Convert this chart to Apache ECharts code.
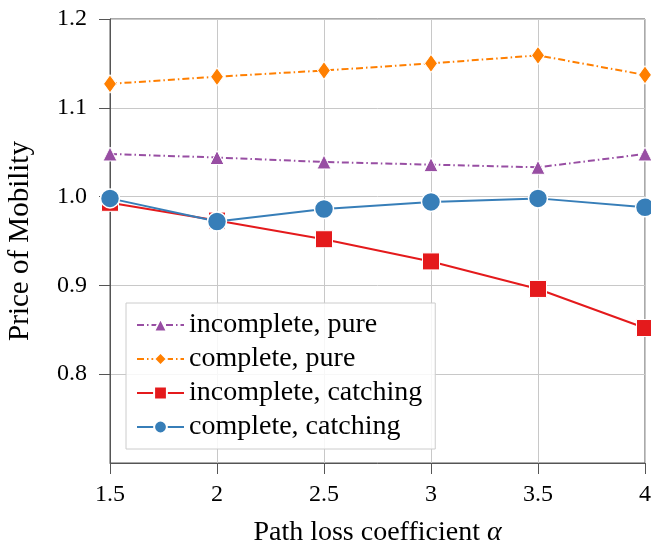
<!DOCTYPE html>
<html><head><meta charset="utf-8">
<script src="https://cdn.jsdelivr.net/npm/echarts@6/dist/echarts.min.js"></script>
<style>html,body{margin:0;padding:0;background:#fff}#c{width:651px;height:543px}</style>
</head><body><div id="c"></div>
<script>
const xValues = [1.5, 2, 2.5, 3, 3.5, 4];
const incompletePure = [1.048, 1.044, 1.039, 1.036, 1.033, 1.048];
const completePure = [1.127, 1.135, 1.142, 1.150, 1.159, 1.137];
const incompleteCatching = [0.993, 0.973, 0.952, 0.927, 0.896, 0.852];
const completeCatching = [0.998, 0.972, 0.986, 0.994, 0.998, 0.988];
const seriesNames = ['incomplete, pure', 'complete, pure', 'incomplete, catching', 'complete, catching'];

const font = 'Liberation Serif, Times New Roman, serif';
const pair = arr => xValues.map((x, i) => [x, arr[i]]);
const dashDot = [7, 3, 1.5, 3];

const chart = echarts.init(document.getElementById('c'), null, {renderer: 'canvas'});
chart.setOption({
  animation: false,
  backgroundColor: '#fff',
  grid: {left: 110, right: 6, top: 19, bottom: 80, show: true, borderColor: '#555', borderWidth: 1,
    containLabel: false, outerBoundsMode: 'none'},
  xAxis: {
    type: 'value', min: 1.5, max: 4, interval: 0.5,
    name: '{n|Path loss coefficient }{a|α}', nameLocation: 'middle', nameGap: 56,
    nameTextStyle: {rich: {n: {fontFamily: font, fontSize: 28, color: '#000'}, a: {fontFamily: font, fontSize: 28, fontStyle: 'italic', color: '#000'}}},
    axisLine: {lineStyle: {color: '#555'}},
    axisTick: {show: true, inside: false, length: 11, lineStyle: {color: '#555'}},
    axisLabel: {fontFamily: font, fontSize: 24, color: '#000', margin: 20},
    splitLine: {show: true, lineStyle: {color: '#c8c8c8', width: 1}}
  },
  yAxis: {
    type: 'value', min: 0.7, max: 1.2, interval: 0.1,
    name: 'Price of Mobility', nameLocation: 'middle', nameGap: 75,
    nameTextStyle: {fontFamily: font, fontSize: 29, color: '#000'},
    axisLine: {show: true, lineStyle: {color: '#555'}},
    axisTick: {show: true, inside: false, length: 11, lineStyle: {color: '#555'},
      customValues: [0.8, 0.9, 1.0, 1.1, 1.2]},
    axisLabel: {fontFamily: font, fontSize: 24, color: '#000', margin: 23, showMinLabel: false,
      formatter: v => v.toFixed(1)},
    splitLine: {show: true, lineStyle: {color: '#c8c8c8', width: 1}}
  },
  legend: {
    orient: 'vertical', left: 126, top: 303, itemGap: 6, itemWidth: 47, itemHeight: 16,
    padding: [8, 13, 8, 10],
    backgroundColor: 'rgba(255,255,255,0.85)', borderColor: '#ccc', borderWidth: 1, borderRadius: 0,
    textStyle: {fontFamily: font, fontSize: 28, color: '#000', lineHeight: 28},
    data: seriesNames
  },
  series: [
    {name: seriesNames[0], type: 'line', data: pair(incompletePure), symbol: 'triangle', symbolSize: 14,
     lineStyle: {color: '#984ea3', width: 2, type: dashDot}, itemStyle: {color: '#984ea3', borderColor: '#fff', borderWidth: 1}},
    {name: seriesNames[1], type: 'line', data: pair(completePure), symbol: 'diamond', symbolSize: [13, 18],
     lineStyle: {color: '#ff7f00', width: 2, type: dashDot}, itemStyle: {color: '#ff7f00', borderColor: '#fff', borderWidth: 1}},
    {name: seriesNames[2], type: 'line', data: pair(incompleteCatching), symbol: 'rect', symbolSize: 17,
     lineStyle: {color: '#e41a1c', width: 2}, itemStyle: {color: '#e41a1c', borderColor: '#fff', borderWidth: 1}},
    {name: seriesNames[3], type: 'line', data: pair(completeCatching), symbol: 'circle', symbolSize: 19,
     lineStyle: {color: '#377eb8', width: 2}, itemStyle: {color: '#377eb8', borderColor: '#fff', borderWidth: 1.5}}
  ]
});
</script></body></html>
